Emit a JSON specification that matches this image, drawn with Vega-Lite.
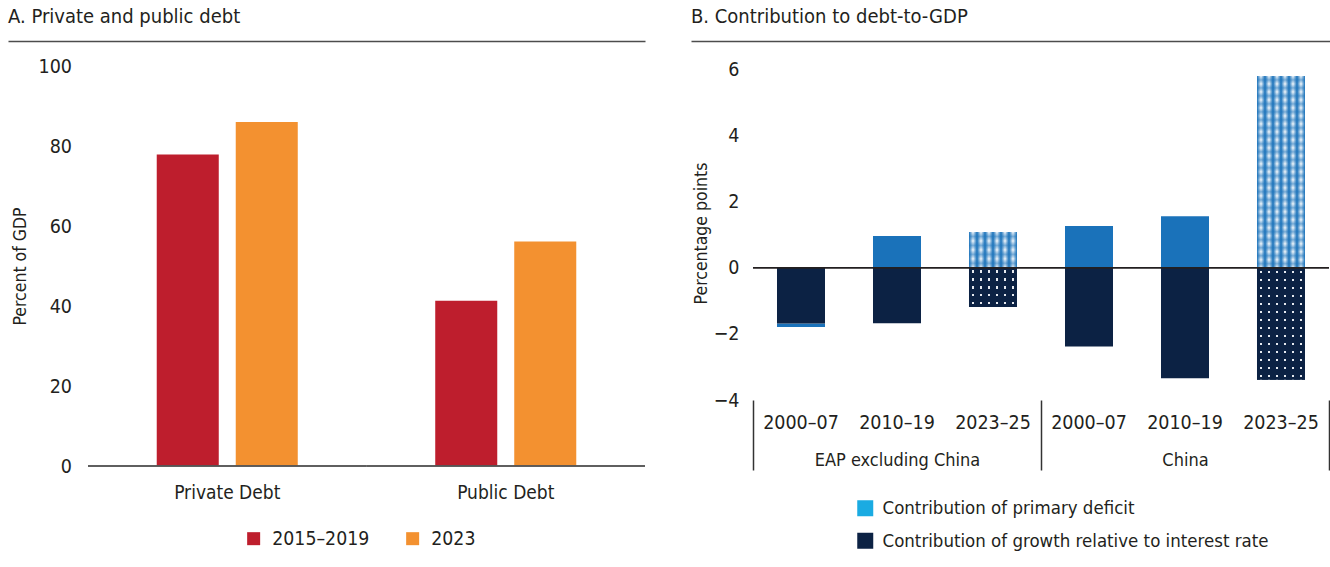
{
  "$schema": "https://vega.github.io/schema/vega-lite/v6.json",
  "padding": {"left": 8, "top": 7, "right": 0, "bottom": 0},
  "spacing": 45,
  "resolve": {"scale": {"color": "independent"}, "legend": {"color": "independent"}},
  "config": {
    "font": "DejaVu Sans Condensed",
    "view": {"stroke": null},
    "axis": {"grid": false, "labelColor": "#231f20", "titleColor": "#231f20", "labelFont": "DejaVu Sans Condensed", "titleFont": "DejaVu Sans Condensed"},
    "legend": {"labelColor": "#231f20", "labelFont": "DejaVu Sans Condensed", "labelLimit": 0},
    "title": {"color": "#231f20", "font": "DejaVu Sans Condensed", "fontSize": 20, "fontWeight": "normal", "anchor": "start", "frame": "group", "baseline": "alphabetic", "offset": 14}
  },
  "datasets": {
    "debt": [
      {"category": "Private Debt", "period": "2015–2019", "value": 77.9},
      {"category": "Private Debt", "period": "2023", "value": 86.0},
      {"category": "Public Debt", "period": "2015–2019", "value": 41.3},
      {"category": "Public Debt", "period": "2023", "value": 56.1}
    ],
    "contrib": [
      {"key": "EAP|2000–07", "group": "EAP excluding China", "period": "2000–07", "component": "Contribution of primary deficit", "value": -0.10, "forecast": false},
      {"key": "EAP|2000–07", "group": "EAP excluding China", "period": "2000–07", "component": "Contribution of growth relative to interest rate", "value": -1.69, "forecast": false},
      {"key": "EAP|2010–19", "group": "EAP excluding China", "period": "2010–19", "component": "Contribution of primary deficit", "value": 0.96, "forecast": false},
      {"key": "EAP|2010–19", "group": "EAP excluding China", "period": "2010–19", "component": "Contribution of growth relative to interest rate", "value": -1.68, "forecast": false},
      {"key": "EAP|2023–25", "group": "EAP excluding China", "period": "2023–25", "component": "Contribution of primary deficit", "value": 1.08, "forecast": true},
      {"key": "EAP|2023–25", "group": "EAP excluding China", "period": "2023–25", "component": "Contribution of growth relative to interest rate", "value": -1.19, "forecast": true},
      {"key": "China|2000–07", "group": "China", "period": "2000–07", "component": "Contribution of primary deficit", "value": 1.26, "forecast": false},
      {"key": "China|2000–07", "group": "China", "period": "2000–07", "component": "Contribution of growth relative to interest rate", "value": -2.38, "forecast": false},
      {"key": "China|2010–19", "group": "China", "period": "2010–19", "component": "Contribution of primary deficit", "value": 1.56, "forecast": false},
      {"key": "China|2010–19", "group": "China", "period": "2010–19", "component": "Contribution of growth relative to interest rate", "value": -3.34, "forecast": false},
      {"key": "China|2023–25", "group": "China", "period": "2023–25", "component": "Contribution of primary deficit", "value": 5.80, "forecast": true},
      {"key": "China|2023–25", "group": "China", "period": "2023–25", "component": "Contribution of growth relative to interest rate", "value": -3.39, "forecast": true}
    ]
  },
  "hconcat": [
    {
      "width": 637,
      "height": 400,
      "title": {"text": "A. Private and public debt"},
      "data": {"name": "debt"},
      "layer": [
        {
          "mark": {"type": "bar"},
          "encoding": {
            "x": {"field": "category", "type": "nominal", "sort": ["Private Debt", "Public Debt"],
                  "scale": {"paddingInner": 0, "paddingOuter": 0.14363, "align": 1},
                  "axis": {"title": null, "labelAngle": 0, "domain": false, "ticks": false, "tickSize": 0, "labelPadding": 17, "labelFontSize": 19}},
            "xOffset": {"field": "period", "type": "nominal", "sort": ["2015–2019", "2023"], "scale": {"paddingInner": 0.215, "paddingOuter": 0.87}},
            "y": {"field": "value", "type": "quantitative",
                  "scale": {"domain": [0, 100], "nice": false},
                  "axis": {"title": "Percent of GDP", "values": [0, 20, 40, 60, 80, 100], "offset": -80, "domain": false, "ticks": false, "tickSize": 0, "labelPadding": 16.5, "labelFontSize": 19.5, "titleFontSize": 17.5, "titleFontWeight": "normal", "titlePadding": 9}},
            "color": {"field": "period", "type": "nominal",
                      "scale": {"domain": ["2015–2019", "2023"], "range": ["#be1e2d", "#f39130"]},
                      "legend": {"orient": "none", "legendX": 236, "legendY": 463, "direction": "horizontal", "title": null, "symbolType": "square", "symbolSize": 169, "symbolStrokeWidth": 0, "labelFontSize": 19.3, "labelOffset": 9, "columnPadding": 33, "padding": 0}}
          }
        },
        {
          "mark": {"type": "bar", "fill": "transparent", "stroke": "#555555", "strokeWidth": 1.5},
          "encoding": {
            "x": {"field": "category", "type": "nominal", "sort": ["Private Debt", "Public Debt"],
                  "scale": {"paddingInner": 0, "paddingOuter": 0.14363, "align": 1},
                  "axis": {"orient": "top", "offset": 25, "labels": false, "ticks": false, "tickSize": 0, "title": null, "domain": true, "domainColor": "#4d4d4d", "domainWidth": 1.5}},
            "y": {"datum": 0},
            "y2": {"datum": 0}
          }
        }
      ],
      "resolve": {"scale": {"x": "independent"}, "axis": {"x": "independent"}}
    },
    {
      "width": 640,
      "height": 334,
      "title": {"text": "B. Contribution to debt-to-GDP"},
      "data": {"name": "contrib"},
      "layer": [
        {
          "encoding": {
            "x": {"field": "key", "type": "nominal",
                  "scale": {"domain": ["EAP|2000–07", "EAP|2010–19", "EAP|2023–25", "China|2000–07", "China|2010–19", "China|2023–25"], "paddingInner": 0, "paddingOuter": 0.33333, "align": 0.96875},
                  "axis": {"title": null, "labelExpr": "split(datum.label, '|')[1]", "labelAngle": 0, "domain": false, "ticks": false, "tickSize": 0, "labelPadding": 13.5, "labelFontSize": 19.5}},
            "y": {"field": "value", "type": "quantitative",
                  "scale": {"domain": [-4, 6.1], "nice": false, "zero": false},
                  "axis": {"title": "Percentage points", "values": [-4, -2, 0, 2, 4, 6], "offset": -62, "domain": false, "ticks": false, "tickSize": 0, "labelPadding": 14, "labelFontSize": 19.5, "titleFontSize": 17.5, "titleFontWeight": "normal", "titlePadding": 3}}
          },
          "layer": [
            {
              "transform": [{"filter": "!datum.forecast"}],
              "mark": {"type": "bar", "width": {"band": 0.5}},
              "encoding": {
                "color": {"condition": {"test": "datum.component === 'Contribution of primary deficit'", "value": "#1a72ba"}, "value": "#0c2244"},
                "detail": {"field": "component", "type": "nominal"},
                "order": {"field": "component", "sort": "ascending"}
              }
            },
            {
              "mark": {"type": "bar", "width": {"band": 0.5}},
              "encoding": {
                "y": {"datum": 0},
                "y2": {"datum": 0},
                "color": {"field": "component", "type": "nominal",
                          "scale": {"domain": ["Contribution of primary deficit", "Contribution of growth relative to interest rate"], "range": ["#1aabe2", "#0c2244"]},
                          "legend": {"orient": "none", "legendX": 165, "legendY": 433, "direction": "vertical", "title": null, "symbolType": "square", "symbolSize": 256, "symbolStrokeWidth": 0, "labelFontSize": 18.5, "labelOffset": 8, "rowPadding": 13.5, "padding": 0, "labelLimit": 0}}
              }
            },
            {
              "transform": [{"filter": "datum.forecast && datum.component === 'Contribution of primary deficit'"}],
              "mark": {"type": "bar", "width": {"band": 0.5}, "fill": {"gradient": "linear", "x1": 0, "y1": 0, "x2": 1, "y2": 0, "stops": [
                {"offset": 0, "color": "#1a72ba"}, {"offset": 0.0833, "color": "#ffffff"}, {"offset": 0.1667, "color": "#1a72ba"}, {"offset": 0.25, "color": "#ffffff"}, {"offset": 0.3333, "color": "#1a72ba"}, {"offset": 0.4167, "color": "#ffffff"}, {"offset": 0.5, "color": "#1a72ba"}, {"offset": 0.5833, "color": "#ffffff"}, {"offset": 0.6667, "color": "#1a72ba"}, {"offset": 0.75, "color": "#ffffff"}, {"offset": 0.8333, "color": "#1a72ba"}, {"offset": 0.9167, "color": "#ffffff"}, {"offset": 1, "color": "#1a72ba"}]}}
            },
            {
              "transform": [{"filter": "datum.key === 'EAP|2023–25' && datum.component === 'Contribution of primary deficit'"}],
              "mark": {"type": "bar", "width": {"band": 0.5}, "fill": {"gradient": "linear", "x1": 0, "y1": 0, "x2": 0, "y2": 1, "stops": [
                {"offset": 0, "color": "rgba(26,114,186,0)"}, {"offset": 0.125, "color": "rgba(26,114,186,0.55)"}, {"offset": 0.25, "color": "rgba(26,114,186,0)"}, {"offset": 0.375, "color": "rgba(26,114,186,0.55)"}, {"offset": 0.5, "color": "rgba(26,114,186,0)"}, {"offset": 0.625, "color": "rgba(26,114,186,0.55)"}, {"offset": 0.75, "color": "rgba(26,114,186,0)"}, {"offset": 0.875, "color": "rgba(26,114,186,0.55)"}, {"offset": 1, "color": "rgba(26,114,186,0)"}]}}
            },
            {
              "transform": [{"filter": "datum.key === 'China|2023–25' && datum.component === 'Contribution of primary deficit'"}],
              "mark": {"type": "bar", "width": {"band": 0.5}, "fill": {"gradient": "linear", "x1": 0, "y1": 0, "x2": 0, "y2": 1, "stops": [
                {"offset": 0, "color": "rgba(26,114,186,0)"}, {"offset": 0.0208, "color": "rgba(26,114,186,0.55)"}, {"offset": 0.0417, "color": "rgba(26,114,186,0)"}, {"offset": 0.0625, "color": "rgba(26,114,186,0.55)"}, {"offset": 0.0833, "color": "rgba(26,114,186,0)"}, {"offset": 0.1042, "color": "rgba(26,114,186,0.55)"}, {"offset": 0.125, "color": "rgba(26,114,186,0)"}, {"offset": 0.1458, "color": "rgba(26,114,186,0.55)"}, {"offset": 0.1667, "color": "rgba(26,114,186,0)"}, {"offset": 0.1875, "color": "rgba(26,114,186,0.55)"}, {"offset": 0.2083, "color": "rgba(26,114,186,0)"}, {"offset": 0.2292, "color": "rgba(26,114,186,0.55)"}, {"offset": 0.25, "color": "rgba(26,114,186,0)"}, {"offset": 0.2708, "color": "rgba(26,114,186,0.55)"}, {"offset": 0.2917, "color": "rgba(26,114,186,0)"}, {"offset": 0.3125, "color": "rgba(26,114,186,0.55)"}, {"offset": 0.3333, "color": "rgba(26,114,186,0)"}, {"offset": 0.3542, "color": "rgba(26,114,186,0.55)"}, {"offset": 0.375, "color": "rgba(26,114,186,0)"}, {"offset": 0.3958, "color": "rgba(26,114,186,0.55)"}, {"offset": 0.4167, "color": "rgba(26,114,186,0)"}, {"offset": 0.4375, "color": "rgba(26,114,186,0.55)"}, {"offset": 0.4583, "color": "rgba(26,114,186,0)"}, {"offset": 0.4792, "color": "rgba(26,114,186,0.55)"}, {"offset": 0.5, "color": "rgba(26,114,186,0)"}, {"offset": 0.5208, "color": "rgba(26,114,186,0.55)"}, {"offset": 0.5417, "color": "rgba(26,114,186,0)"}, {"offset": 0.5625, "color": "rgba(26,114,186,0.55)"}, {"offset": 0.5833, "color": "rgba(26,114,186,0)"}, {"offset": 0.6042, "color": "rgba(26,114,186,0.55)"}, {"offset": 0.625, "color": "rgba(26,114,186,0)"}, {"offset": 0.6458, "color": "rgba(26,114,186,0.55)"}, {"offset": 0.6667, "color": "rgba(26,114,186,0)"}, {"offset": 0.6875, "color": "rgba(26,114,186,0.55)"}, {"offset": 0.7083, "color": "rgba(26,114,186,0)"}, {"offset": 0.7292, "color": "rgba(26,114,186,0.55)"}, {"offset": 0.75, "color": "rgba(26,114,186,0)"}, {"offset": 0.7708, "color": "rgba(26,114,186,0.55)"}, {"offset": 0.7917, "color": "rgba(26,114,186,0)"}, {"offset": 0.8125, "color": "rgba(26,114,186,0.55)"}, {"offset": 0.8333, "color": "rgba(26,114,186,0)"}, {"offset": 0.8542, "color": "rgba(26,114,186,0.55)"}, {"offset": 0.875, "color": "rgba(26,114,186,0)"}, {"offset": 0.8958, "color": "rgba(26,114,186,0.55)"}, {"offset": 0.9167, "color": "rgba(26,114,186,0)"}, {"offset": 0.9375, "color": "rgba(26,114,186,0.55)"}, {"offset": 0.9583, "color": "rgba(26,114,186,0)"}, {"offset": 0.9792, "color": "rgba(26,114,186,0.55)"}, {"offset": 1, "color": "rgba(26,114,186,0)"}]}}
            },
            {
              "transform": [{"filter": "datum.forecast && datum.component === 'Contribution of growth relative to interest rate'"}],
              "mark": {"type": "bar", "width": {"band": 0.5}, "fill": {"gradient": "linear", "x1": 0, "y1": 0, "x2": 1, "y2": 0, "stops": [
                {"offset": 0, "color": "#0c2244"}, {"offset": 0.0625, "color": "#0c2244"}, {"offset": 0.0625, "color": "#e6e9ef"}, {"offset": 0.1042, "color": "#e6e9ef"}, {"offset": 0.1042, "color": "#0c2244"},
                {"offset": 0.2292, "color": "#0c2244"}, {"offset": 0.2292, "color": "#e6e9ef"}, {"offset": 0.2708, "color": "#e6e9ef"}, {"offset": 0.2708, "color": "#0c2244"},
                {"offset": 0.3958, "color": "#0c2244"}, {"offset": 0.3958, "color": "#e6e9ef"}, {"offset": 0.4375, "color": "#e6e9ef"}, {"offset": 0.4375, "color": "#0c2244"},
                {"offset": 0.5625, "color": "#0c2244"}, {"offset": 0.5625, "color": "#e6e9ef"}, {"offset": 0.6042, "color": "#e6e9ef"}, {"offset": 0.6042, "color": "#0c2244"},
                {"offset": 0.7292, "color": "#0c2244"}, {"offset": 0.7292, "color": "#e6e9ef"}, {"offset": 0.7708, "color": "#e6e9ef"}, {"offset": 0.7708, "color": "#0c2244"},
                {"offset": 0.8958, "color": "#0c2244"}, {"offset": 0.8958, "color": "#e6e9ef"}, {"offset": 0.9375, "color": "#e6e9ef"}, {"offset": 0.9375, "color": "#0c2244"}, {"offset": 1, "color": "#0c2244"}]}}
            },
            {
              "transform": [{"filter": "datum.key === 'EAP|2023–25' && datum.component === 'Contribution of growth relative to interest rate'"}],
              "mark": {"type": "bar", "width": {"band": 0.5}, "fill": {"gradient": "linear", "x1": 0, "y1": 0, "x2": 0, "y2": 1, "stops": [
                {"offset": 0, "color": "#0c2244"}, {"offset": 0.07, "color": "#0c2244"}, {"offset": 0.07, "color": "rgba(12,34,68,0)"}, {"offset": 0.13, "color": "rgba(12,34,68,0)"}, {"offset": 0.13, "color": "#0c2244"},
                {"offset": 0.27, "color": "#0c2244"}, {"offset": 0.27, "color": "rgba(12,34,68,0)"}, {"offset": 0.33, "color": "rgba(12,34,68,0)"}, {"offset": 0.33, "color": "#0c2244"},
                {"offset": 0.47, "color": "#0c2244"}, {"offset": 0.47, "color": "rgba(12,34,68,0)"}, {"offset": 0.53, "color": "rgba(12,34,68,0)"}, {"offset": 0.53, "color": "#0c2244"},
                {"offset": 0.67, "color": "#0c2244"}, {"offset": 0.67, "color": "rgba(12,34,68,0)"}, {"offset": 0.73, "color": "rgba(12,34,68,0)"}, {"offset": 0.73, "color": "#0c2244"},
                {"offset": 0.87, "color": "#0c2244"}, {"offset": 0.87, "color": "rgba(12,34,68,0)"}, {"offset": 0.93, "color": "rgba(12,34,68,0)"}, {"offset": 0.93, "color": "#0c2244"}, {"offset": 1, "color": "#0c2244"}]}}
            },
            {
              "transform": [{"filter": "datum.key === 'China|2023–25' && datum.component === 'Contribution of growth relative to interest rate'"}],
              "mark": {"type": "bar", "width": {"band": 0.5}, "fill": {"gradient": "linear", "x1": 0, "y1": 0, "x2": 0, "y2": 1, "stops": [
                {"offset": 0, "color": "#0c2244"}, {"offset": 0.025, "color": "#0c2244"}, {"offset": 0.025, "color": "rgba(12,34,68,0)"}, {"offset": 0.0464, "color": "rgba(12,34,68,0)"}, {"offset": 0.0464, "color": "#0c2244"},
                {"offset": 0.0964, "color": "#0c2244"}, {"offset": 0.0964, "color": "rgba(12,34,68,0)"}, {"offset": 0.1179, "color": "rgba(12,34,68,0)"}, {"offset": 0.1179, "color": "#0c2244"},
                {"offset": 0.1679, "color": "#0c2244"}, {"offset": 0.1679, "color": "rgba(12,34,68,0)"}, {"offset": 0.1893, "color": "rgba(12,34,68,0)"}, {"offset": 0.1893, "color": "#0c2244"},
                {"offset": 0.2393, "color": "#0c2244"}, {"offset": 0.2393, "color": "rgba(12,34,68,0)"}, {"offset": 0.2607, "color": "rgba(12,34,68,0)"}, {"offset": 0.2607, "color": "#0c2244"},
                {"offset": 0.3107, "color": "#0c2244"}, {"offset": 0.3107, "color": "rgba(12,34,68,0)"}, {"offset": 0.3321, "color": "rgba(12,34,68,0)"}, {"offset": 0.3321, "color": "#0c2244"},
                {"offset": 0.3821, "color": "#0c2244"}, {"offset": 0.3821, "color": "rgba(12,34,68,0)"}, {"offset": 0.4036, "color": "rgba(12,34,68,0)"}, {"offset": 0.4036, "color": "#0c2244"},
                {"offset": 0.4536, "color": "#0c2244"}, {"offset": 0.4536, "color": "rgba(12,34,68,0)"}, {"offset": 0.475, "color": "rgba(12,34,68,0)"}, {"offset": 0.475, "color": "#0c2244"},
                {"offset": 0.525, "color": "#0c2244"}, {"offset": 0.525, "color": "rgba(12,34,68,0)"}, {"offset": 0.5464, "color": "rgba(12,34,68,0)"}, {"offset": 0.5464, "color": "#0c2244"},
                {"offset": 0.5964, "color": "#0c2244"}, {"offset": 0.5964, "color": "rgba(12,34,68,0)"}, {"offset": 0.6179, "color": "rgba(12,34,68,0)"}, {"offset": 0.6179, "color": "#0c2244"},
                {"offset": 0.6679, "color": "#0c2244"}, {"offset": 0.6679, "color": "rgba(12,34,68,0)"}, {"offset": 0.6893, "color": "rgba(12,34,68,0)"}, {"offset": 0.6893, "color": "#0c2244"},
                {"offset": 0.7393, "color": "#0c2244"}, {"offset": 0.7393, "color": "rgba(12,34,68,0)"}, {"offset": 0.7607, "color": "rgba(12,34,68,0)"}, {"offset": 0.7607, "color": "#0c2244"},
                {"offset": 0.8107, "color": "#0c2244"}, {"offset": 0.8107, "color": "rgba(12,34,68,0)"}, {"offset": 0.8321, "color": "rgba(12,34,68,0)"}, {"offset": 0.8321, "color": "#0c2244"},
                {"offset": 0.8821, "color": "#0c2244"}, {"offset": 0.8821, "color": "rgba(12,34,68,0)"}, {"offset": 0.9036, "color": "rgba(12,34,68,0)"}, {"offset": 0.9036, "color": "#0c2244"},
                {"offset": 0.9536, "color": "#0c2244"}, {"offset": 0.9536, "color": "rgba(12,34,68,0)"}, {"offset": 0.975, "color": "rgba(12,34,68,0)"}, {"offset": 0.975, "color": "#0c2244"}, {"offset": 1, "color": "#0c2244"}]}}
            }
          ]
        },
        {
          "mark": {"type": "bar", "fill": "transparent", "stroke": "#231f20", "strokeWidth": 1.5},
          "encoding": {
            "x": {"field": "key", "type": "nominal",
                  "scale": {"domain": ["EAP|2000–07", "EAP|2010–19", "EAP|2023–25", "China|2000–07", "China|2010–19", "China|2023–25"], "paddingInner": 0, "paddingOuter": 0.33333, "align": 0.96875},
                  "axis": {"orient": "top", "offset": 25, "labels": false, "ticks": false, "tickSize": 0, "title": null, "domain": true, "domainColor": "#4d4d4d", "domainWidth": 1.5}},
            "y": {"datum": 0},
            "y2": {"datum": 0}
          }
        },
        {
          "mark": {"type": "point", "opacity": 0},
          "encoding": {
            "x": {"field": "group", "type": "nominal",
                  "scale": {"domain": ["EAP excluding China", "China"], "paddingInner": 0, "paddingOuter": 0.11111, "align": 0.96875},
                  "axis": {"orient": "bottom", "title": null, "labelAngle": 0, "domain": false, "ticks": true, "tickBand": "extent", "tickSize": 70, "tickColor": "#333333", "tickWidth": 1.5, "labelPadding": -18.5, "labelFontSize": 18}},
            "y": {"datum": 0}
          }
        }
      ],
      "resolve": {"scale": {"x": "independent"}, "axis": {"x": "independent"}}
    }
  ]
}
